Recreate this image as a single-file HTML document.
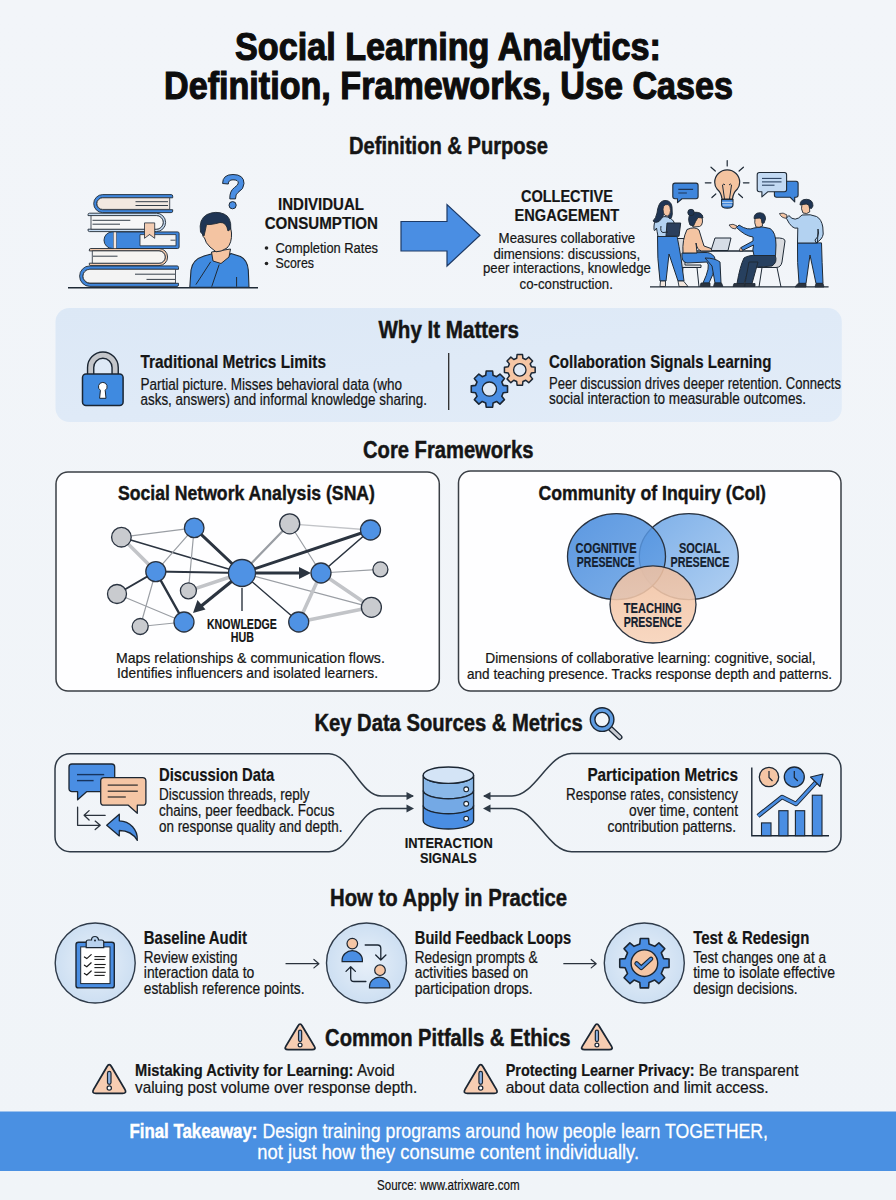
<!DOCTYPE html>
<html><head><meta charset="utf-8"><title>Social Learning Analytics</title>
<style>
html,body{margin:0;padding:0;background:#f1f4f8;width:896px;height:1200px;overflow:hidden;}
svg{display:block;font-family:"Liberation Sans",sans-serif;}
</style></head><body>
<svg width="896" height="1200" viewBox="0 0 896 1200">
<defs><linearGradient id="bg" x1="0" y1="0" x2="0" y2="1"><stop offset="0" stop-color="#f2f5f9"/><stop offset="1" stop-color="#f0f4f8"/></linearGradient>
<radialGradient id="circ" cx="0.5" cy="0.5" r="0.5"><stop offset="0" stop-color="#e8f0f9"/><stop offset="1" stop-color="#cddff2"/></radialGradient>
<linearGradient id="vcog" x1="0" y1="0" x2="1" y2="1"><stop offset="0" stop-color="#3f86dc"/><stop offset="1" stop-color="#6aa3e4"/></linearGradient>
<linearGradient id="vsoc" x1="0" y1="0" x2="1" y2="1"><stop offset="0" stop-color="#6ea6e6"/><stop offset="1" stop-color="#a9cbf0"/></linearGradient>
<linearGradient id="vtea" x1="0" y1="0" x2="0" y2="1"><stop offset="0" stop-color="#f0c0a0"/><stop offset="1" stop-color="#f7d2b8"/></linearGradient>
<linearGradient id="panel" x1="0" y1="0" x2="1" y2="1"><stop offset="0" stop-color="#dce8f6"/><stop offset="1" stop-color="#e2ecf8"/></linearGradient>
</defs>
<rect width="896" height="1200" fill="url(#bg)"/>
<text x="235.0" y="59.5" font-size="38.52" font-weight="700" fill="#0d0d0d" stroke="#0d0d0d" stroke-width="1.16" textLength="426.0" lengthAdjust="spacingAndGlyphs">Social Learning Analytics:</text>
<text x="164.0" y="98.7" font-size="38.52" font-weight="700" fill="#0d0d0d" stroke="#0d0d0d" stroke-width="1.16" textLength="569.0" lengthAdjust="spacingAndGlyphs">Definition, Frameworks, Use Cases</text>
<text x="349.0" y="153.9" font-size="23.54" font-weight="700" fill="#151515" stroke="#151515" stroke-width="0.47" textLength="199.0" lengthAdjust="spacingAndGlyphs">Definition &amp; Purpose</text>
<text x="278.0" y="210.0" font-size="16.59" font-weight="700" fill="#151515" stroke="#151515" stroke-width="0.20" textLength="86.0" lengthAdjust="spacingAndGlyphs">INDIVIDUAL</text>
<text x="264.7" y="229.0" font-size="16.59" font-weight="700" fill="#151515" stroke="#151515" stroke-width="0.20" textLength="113.3" lengthAdjust="spacingAndGlyphs">CONSUMPTION</text>
<circle cx="266.5" cy="248" r="1.8" fill="#222"/>
<circle cx="266.5" cy="263.5" r="1.8" fill="#222"/>
<text x="275.5" y="252.9" font-size="15.52" font-weight="400" fill="#151515" stroke="#151515" stroke-width="0.22" textLength="102.5" lengthAdjust="spacingAndGlyphs">Completion Rates</text>
<text x="275.5" y="268.4" font-size="15.52" font-weight="400" fill="#151515" stroke="#151515" stroke-width="0.22" textLength="38.5" lengthAdjust="spacingAndGlyphs">Scores</text>
<path d="M401,221.5 H447 V204.6 L480,235.3 L447,266 V251 H401 Z" fill="#4a8ee3" stroke="#1d3a66" stroke-width="1.2" stroke-linejoin="miter"/>
<text x="520.9" y="201.8" font-size="16.59" font-weight="700" fill="#151515" stroke="#151515" stroke-width="0.20" textLength="92.0" lengthAdjust="spacingAndGlyphs">COLLECTIVE</text>
<text x="514.6" y="220.8" font-size="16.59" font-weight="700" fill="#151515" stroke="#151515" stroke-width="0.20" textLength="104.5" lengthAdjust="spacingAndGlyphs">ENGAGEMENT</text>
<text x="498.6" y="243.1" font-size="15.52" font-weight="400" fill="#151515" stroke="#151515" stroke-width="0.22" textLength="136.6" lengthAdjust="spacingAndGlyphs">Measures collaborative</text>
<text x="493.4" y="258.7" font-size="15.52" font-weight="400" fill="#151515" stroke="#151515" stroke-width="0.22" textLength="146.7" lengthAdjust="spacingAndGlyphs">dimensions: discussions,</text>
<text x="483.0" y="273.2" font-size="15.52" font-weight="400" fill="#151515" stroke="#151515" stroke-width="0.22" textLength="167.8" lengthAdjust="spacingAndGlyphs">peer interactions, knowledge</text>
<text x="519.6" y="288.8" font-size="15.52" font-weight="400" fill="#151515" stroke="#151515" stroke-width="0.22" textLength="93.3" lengthAdjust="spacingAndGlyphs">co-construction.</text>
<rect x="55.5" y="308" width="786.3" height="114" rx="14" fill="url(#panel)"/>
<text x="378.4" y="338.1" font-size="23.01" font-weight="700" fill="#151515" stroke="#151515" stroke-width="0.46" textLength="140.6" lengthAdjust="spacingAndGlyphs">Why It Matters</text>
<text x="140.5" y="368.3" font-size="17.66" font-weight="700" fill="#151515" stroke="#151515" stroke-width="0.21" textLength="185.5" lengthAdjust="spacingAndGlyphs">Traditional Metrics Limits</text>
<text x="140.5" y="389.7" font-size="16.05" font-weight="400" fill="#151515" stroke="#151515" stroke-width="0.22" textLength="261.5" lengthAdjust="spacingAndGlyphs">Partial picture. Misses behavioral data (who</text>
<text x="140.5" y="405.3" font-size="16.05" font-weight="400" fill="#151515" stroke="#151515" stroke-width="0.22" textLength="286.5" lengthAdjust="spacingAndGlyphs">asks, answers) and informal knowledge sharing.</text>
<line x1="448.7" y1="353" x2="448.7" y2="410" stroke="#2a2a2a" stroke-width="1.3"/>
<text x="549.0" y="367.9" font-size="17.66" font-weight="700" fill="#151515" stroke="#151515" stroke-width="0.21" textLength="222.4" lengthAdjust="spacingAndGlyphs">Collaboration Signals Learning</text>
<text x="549.0" y="389.3" font-size="16.05" font-weight="400" fill="#151515" stroke="#151515" stroke-width="0.22" textLength="292.0" lengthAdjust="spacingAndGlyphs">Peer discussion drives deeper retention. Connects</text>
<text x="549.0" y="404.3" font-size="16.05" font-weight="400" fill="#151515" stroke="#151515" stroke-width="0.22" textLength="257.0" lengthAdjust="spacingAndGlyphs">social interaction to measurable outcomes.</text>
<text x="363.0" y="457.5" font-size="23.54" font-weight="700" fill="#151515" stroke="#151515" stroke-width="0.47" textLength="170.4" lengthAdjust="spacingAndGlyphs">Core Frameworks</text>
<rect x="56" y="472" width="383.3" height="219" rx="12" fill="#ffffff" fill-opacity="0.9" stroke="#3a3f45" stroke-width="1.5"/>
<rect x="458.5" y="471" width="382.5" height="220" rx="12" fill="#ffffff" fill-opacity="0.9" stroke="#3a3f45" stroke-width="1.5"/>
<text x="117.9" y="500.0" font-size="20.33" font-weight="700" fill="#151515" stroke="#151515" stroke-width="0.41" textLength="257.1" lengthAdjust="spacingAndGlyphs">Social Network Analysis (SNA)</text>
<text x="538.4" y="500.0" font-size="20.33" font-weight="700" fill="#151515" stroke="#151515" stroke-width="0.41" textLength="227.6" lengthAdjust="spacingAndGlyphs">Community of Inquiry (CoI)</text>
<text x="116.0" y="663.0" font-size="15.52" font-weight="400" fill="#151515" stroke="#151515" stroke-width="0.22" textLength="268.8" lengthAdjust="spacingAndGlyphs">Maps relationships &amp; communication flows.</text>
<text x="117.0" y="677.9" font-size="15.52" font-weight="400" fill="#151515" stroke="#151515" stroke-width="0.22" textLength="261.0" lengthAdjust="spacingAndGlyphs">Identifies influencers and isolated learners.</text>
<text x="207.0" y="628.7" font-size="14.45" font-weight="700" fill="#151515" stroke="#151515" stroke-width="0.17" textLength="69.8" lengthAdjust="spacingAndGlyphs">KNOWLEDGE</text>
<text x="230.8" y="641.7" font-size="14.45" font-weight="700" fill="#151515" stroke="#151515" stroke-width="0.17" textLength="23.2" lengthAdjust="spacingAndGlyphs">HUB</text>
<text x="485.3" y="663.0" font-size="15.52" font-weight="400" fill="#151515" stroke="#151515" stroke-width="0.22" textLength="330.3" lengthAdjust="spacingAndGlyphs">Dimensions of collaborative learning: cognitive, social,</text>
<text x="467.0" y="678.7" font-size="15.52" font-weight="400" fill="#151515" stroke="#151515" stroke-width="0.22" textLength="365.0" lengthAdjust="spacingAndGlyphs">and teaching presence. Tracks response depth and patterns.</text>
<text x="314.4" y="731.1" font-size="23.54" font-weight="700" fill="#151515" stroke="#151515" stroke-width="0.47" textLength="268.3" lengthAdjust="spacingAndGlyphs">Key Data Sources &amp; Metrics</text>
<text x="159.0" y="781.3" font-size="17.66" font-weight="700" fill="#151515" stroke="#151515" stroke-width="0.21" textLength="115.2" lengthAdjust="spacingAndGlyphs">Discussion Data</text>
<text x="159.0" y="800.4" font-size="16.05" font-weight="400" fill="#151515" stroke="#151515" stroke-width="0.22" textLength="150.5" lengthAdjust="spacingAndGlyphs">Discussion threads, reply</text>
<text x="159.0" y="816.0" font-size="16.05" font-weight="400" fill="#151515" stroke="#151515" stroke-width="0.22" textLength="175.4" lengthAdjust="spacingAndGlyphs">chains, peer feedback. Focus</text>
<text x="159.0" y="831.5" font-size="16.05" font-weight="400" fill="#151515" stroke="#151515" stroke-width="0.22" textLength="183.4" lengthAdjust="spacingAndGlyphs">on response quality and depth.</text>
<text x="404.7" y="848.0" font-size="14.98" font-weight="700" fill="#151515" stroke="#151515" stroke-width="0.18" textLength="88.0" lengthAdjust="spacingAndGlyphs">INTERACTION</text>
<text x="420.0" y="863.3" font-size="14.98" font-weight="700" fill="#151515" stroke="#151515" stroke-width="0.18" textLength="56.7" lengthAdjust="spacingAndGlyphs">SIGNALS</text>
<text x="587.4" y="781.3" font-size="17.66" font-weight="700" fill="#151515" stroke="#151515" stroke-width="0.21" textLength="150.6" lengthAdjust="spacingAndGlyphs">Participation Metrics</text>
<text x="566.0" y="800.4" font-size="16.05" font-weight="400" fill="#151515" stroke="#151515" stroke-width="0.22" textLength="172.0" lengthAdjust="spacingAndGlyphs">Response rates, consistency</text>
<text x="629.0" y="816.0" font-size="16.05" font-weight="400" fill="#151515" stroke="#151515" stroke-width="0.22" textLength="109.0" lengthAdjust="spacingAndGlyphs">over time, content</text>
<text x="607.5" y="831.5" font-size="16.05" font-weight="400" fill="#151515" stroke="#151515" stroke-width="0.22" textLength="128.5" lengthAdjust="spacingAndGlyphs">contribution patterns.</text>
<text x="330.0" y="905.8" font-size="23.54" font-weight="700" fill="#151515" stroke="#151515" stroke-width="0.47" textLength="237.1" lengthAdjust="spacingAndGlyphs">How to Apply in Practice</text>
<circle cx="95.2" cy="963" r="40" fill="url(#circ)" stroke="#2f3b4a" stroke-width="1.4"/>
<circle cx="366.5" cy="963" r="40" fill="url(#circ)" stroke="#2f3b4a" stroke-width="1.4"/>
<circle cx="644.3" cy="963" r="40" fill="url(#circ)" stroke="#2f3b4a" stroke-width="1.4"/>
<text x="143.8" y="943.6" font-size="17.66" font-weight="700" fill="#151515" stroke="#151515" stroke-width="0.21" textLength="103.2" lengthAdjust="spacingAndGlyphs">Baseline Audit</text>
<text x="143.8" y="962.7" font-size="16.05" font-weight="400" fill="#151515" stroke="#151515" stroke-width="0.22" textLength="93.7" lengthAdjust="spacingAndGlyphs">Review existing</text>
<text x="143.8" y="978.1" font-size="16.05" font-weight="400" fill="#151515" stroke="#151515" stroke-width="0.22" textLength="110.5" lengthAdjust="spacingAndGlyphs">interaction data to</text>
<text x="143.8" y="993.8" font-size="16.05" font-weight="400" fill="#151515" stroke="#151515" stroke-width="0.22" textLength="160.7" lengthAdjust="spacingAndGlyphs">establish reference points.</text>
<text x="414.8" y="943.6" font-size="17.66" font-weight="700" fill="#151515" stroke="#151515" stroke-width="0.21" textLength="156.3" lengthAdjust="spacingAndGlyphs">Build Feedback Loops</text>
<text x="414.8" y="962.7" font-size="16.05" font-weight="400" fill="#151515" stroke="#151515" stroke-width="0.22" textLength="122.8" lengthAdjust="spacingAndGlyphs">Redesign prompts &amp;</text>
<text x="414.8" y="978.1" font-size="16.05" font-weight="400" fill="#151515" stroke="#151515" stroke-width="0.22" textLength="113.5" lengthAdjust="spacingAndGlyphs">activities based on</text>
<text x="414.8" y="993.8" font-size="16.05" font-weight="400" fill="#151515" stroke="#151515" stroke-width="0.22" textLength="117.8" lengthAdjust="spacingAndGlyphs">participation drops.</text>
<text x="693.2" y="943.6" font-size="17.66" font-weight="700" fill="#151515" stroke="#151515" stroke-width="0.21" textLength="116.1" lengthAdjust="spacingAndGlyphs">Test &amp; Redesign</text>
<text x="693.2" y="962.7" font-size="16.05" font-weight="400" fill="#151515" stroke="#151515" stroke-width="0.22" textLength="132.8" lengthAdjust="spacingAndGlyphs">Test changes one at a</text>
<text x="693.2" y="978.1" font-size="16.05" font-weight="400" fill="#151515" stroke="#151515" stroke-width="0.22" textLength="141.9" lengthAdjust="spacingAndGlyphs">time to isolate effective</text>
<text x="693.2" y="993.8" font-size="16.05" font-weight="400" fill="#151515" stroke="#151515" stroke-width="0.22" textLength="104.4" lengthAdjust="spacingAndGlyphs">design decisions.</text>
<text x="325.1" y="1046.0" font-size="23.54" font-weight="700" fill="#151515" stroke="#151515" stroke-width="0.47" textLength="245.5" lengthAdjust="spacingAndGlyphs">Common Pitfalls &amp; Ethics</text>
<text x="135.1" y="1075.7" font-size="17.12" fill="#151515" stroke="#151515"><tspan x="135.1" font-weight="700" stroke-width="0.21" textLength="218.4" lengthAdjust="spacingAndGlyphs">Mistaking Activity for Learning:</tspan><tspan x="353.5" font-weight="400" stroke-width="0.24" textLength="41.2" lengthAdjust="spacingAndGlyphs"> Avoid</tspan></text>
<text x="135.1" y="1092.7" font-size="17.12" font-weight="400" fill="#151515" stroke="#151515" stroke-width="0.24" textLength="282.1" lengthAdjust="spacingAndGlyphs">valuing post volume over response depth.</text>
<text x="505.7" y="1075.7" font-size="17.12" fill="#151515" stroke="#151515"><tspan x="505.7" font-weight="700" stroke-width="0.21" textLength="188.8" lengthAdjust="spacingAndGlyphs">Protecting Learner Privacy:</tspan><tspan x="694.5" font-weight="400" stroke-width="0.24" textLength="103.9" lengthAdjust="spacingAndGlyphs"> Be transparent</tspan></text>
<text x="505.7" y="1092.7" font-size="17.12" font-weight="400" fill="#151515" stroke="#151515" stroke-width="0.24" textLength="263.0" lengthAdjust="spacingAndGlyphs">about data collection and limit access.</text>
<rect x="0" y="1111.5" width="896" height="59.5" fill="#4a90e2"/>
<text x="129.4" y="1137.5" font-size="20.87" fill="#ffffff" stroke="#ffffff"><tspan x="129.4" font-weight="700" stroke-width="0.42" textLength="128.1" lengthAdjust="spacingAndGlyphs">Final Takeaway:</tspan><tspan x="257.5" font-weight="400" stroke-width="0.29" textLength="510.5" lengthAdjust="spacingAndGlyphs"> Design training programs around how people learn TOGETHER,</tspan></text>
<text x="257.3" y="1158.6" font-size="20.87" font-weight="400" fill="#ffffff" stroke="#ffffff" stroke-width="0.29" textLength="381.7" lengthAdjust="spacingAndGlyphs">not just how they consume content individually.</text>
<text x="377.0" y="1190.4" font-size="13.91" font-weight="400" fill="#111" stroke="#111" stroke-width="0.19" textLength="142.5" lengthAdjust="spacingAndGlyphs">Source: www.atrixware.com</text>
<line x1="121.4" y1="537.2" x2="194.2" y2="527.9" stroke="#9a9ea4" stroke-width="1.2" stroke-linecap="round"/>
<line x1="121.4" y1="537.2" x2="242" y2="573" stroke="#2b3440" stroke-width="1.6" stroke-linecap="round"/>
<line x1="121.4" y1="537.2" x2="155.8" y2="571.6" stroke="#c2c4c8" stroke-width="3.5" stroke-linecap="round"/>
<line x1="194.2" y1="527.9" x2="155.8" y2="571.6" stroke="#9a9ea4" stroke-width="1.2" stroke-linecap="round"/>
<line x1="194.2" y1="527.9" x2="188.4" y2="590.8" stroke="#9a9ea4" stroke-width="1.2" stroke-linecap="round"/>
<line x1="289.7" y1="523.8" x2="242" y2="573" stroke="#9a9ea4" stroke-width="2.2" stroke-linecap="round"/>
<line x1="289.7" y1="523.8" x2="321" y2="573" stroke="#9a9ea4" stroke-width="1.2" stroke-linecap="round"/>
<line x1="289.7" y1="523.8" x2="370.5" y2="530" stroke="#c2c4c8" stroke-width="1.3" stroke-linecap="round"/>
<line x1="370.5" y1="530" x2="321" y2="573" stroke="#2b3440" stroke-width="1.6" stroke-linecap="round"/>
<line x1="155.8" y1="571.6" x2="242" y2="573" stroke="#2b3440" stroke-width="2" stroke-linecap="round"/>
<line x1="155.8" y1="571.6" x2="117" y2="594" stroke="#2b3440" stroke-width="1.8" stroke-linecap="round"/>
<line x1="155.8" y1="571.6" x2="184" y2="622" stroke="#2b3440" stroke-width="2.4" stroke-linecap="round"/>
<line x1="155.8" y1="571.6" x2="140.2" y2="626.5" stroke="#9a9ea4" stroke-width="1.2" stroke-linecap="round"/>
<line x1="242" y1="573" x2="188.4" y2="590.8" stroke="#c2c4c8" stroke-width="3.5" stroke-linecap="round"/>
<line x1="242" y1="573" x2="371.4" y2="607.3" stroke="#9a9ea4" stroke-width="1.2" stroke-linecap="round"/>
<line x1="242" y1="573" x2="298.7" y2="622" stroke="#2b3440" stroke-width="1.4" stroke-linecap="round"/>
<line x1="321" y1="573" x2="380.4" y2="569.4" stroke="#9a9ea4" stroke-width="1.2" stroke-linecap="round"/>
<line x1="321" y1="573" x2="298.7" y2="622" stroke="#c2c4c8" stroke-width="3.5" stroke-linecap="round"/>
<line x1="321" y1="573" x2="371.4" y2="607.3" stroke="#c2c4c8" stroke-width="3.5" stroke-linecap="round"/>
<line x1="298.7" y1="622" x2="371.4" y2="607.3" stroke="#c2c4c8" stroke-width="3.5" stroke-linecap="round"/>
<line x1="117" y1="594" x2="184" y2="622" stroke="#9a9ea4" stroke-width="1.2" stroke-linecap="round"/>
<line x1="140.2" y1="626.5" x2="184" y2="622" stroke="#9a9ea4" stroke-width="1.2" stroke-linecap="round"/>
<line x1="194.2" y1="527.9" x2="242" y2="573" stroke="#2b3440" stroke-width="3" stroke-linecap="round"/>
<line x1="370.5" y1="530" x2="242" y2="573" stroke="#2b3440" stroke-width="3" stroke-linecap="round"/>
<line x1="242" y1="573" x2="305" y2="573" stroke="#2b3440" stroke-width="3.2"/>
<path d="M311,573 L299,567 L299,579 Z" fill="#2b3440"/>
<line x1="242" y1="573" x2="200" y2="607" stroke="#2b3440" stroke-width="3.2"/>
<path d="M193,613 L197.5,600 L205.5,609.5 Z" fill="#2b3440"/>
<line x1="242" y1="588" x2="242" y2="611" stroke="#2b3440" stroke-width="1.4"/>
<circle cx="121.4" cy="537.2" r="9.8" fill="#c9cbcf" stroke="#2a3340" stroke-width="1.3"/>
<circle cx="194.2" cy="527.9" r="9.8" fill="#4f92e4" stroke="#2a3340" stroke-width="1.3"/>
<circle cx="289.7" cy="523.8" r="10" fill="#c9cbcf" stroke="#2a3340" stroke-width="1.3"/>
<circle cx="370.5" cy="530" r="10" fill="#4f92e4" stroke="#2a3340" stroke-width="1.3"/>
<circle cx="155.8" cy="571.6" r="10" fill="#4f92e4" stroke="#2a3340" stroke-width="1.3"/>
<circle cx="242" cy="573" r="13.5" fill="#4f92e4" stroke="#2a3340" stroke-width="1.3"/>
<circle cx="321" cy="573" r="10" fill="#4f92e4" stroke="#2a3340" stroke-width="1.3"/>
<circle cx="380.4" cy="569.4" r="7.5" fill="#c9cbcf" stroke="#2a3340" stroke-width="1.3"/>
<circle cx="117" cy="594" r="9.5" fill="#c9cbcf" stroke="#2a3340" stroke-width="1.3"/>
<circle cx="188.4" cy="590.8" r="8" fill="#c9cbcf" stroke="#2a3340" stroke-width="1.3"/>
<circle cx="371.4" cy="607.3" r="10" fill="#c9cbcf" stroke="#2a3340" stroke-width="1.3"/>
<circle cx="140.2" cy="626.5" r="8" fill="#c9cbcf" stroke="#2a3340" stroke-width="1.3"/>
<circle cx="184" cy="622" r="10" fill="#4f92e4" stroke="#2a3340" stroke-width="1.3"/>
<circle cx="298.7" cy="622" r="10" fill="#4f92e4" stroke="#2a3340" stroke-width="1.3"/>
<ellipse cx="688.8" cy="556.6" rx="49.5" ry="43" fill="url(#vsoc)" fill-opacity="0.9" stroke="#2a3340" stroke-width="1.3"/>
<ellipse cx="616.5" cy="556.6" rx="49" ry="43" fill="url(#vcog)" fill-opacity="0.85" stroke="#2a3340" stroke-width="1.3"/>
<ellipse cx="653" cy="604.4" rx="43" ry="38.6" fill="url(#vtea)" fill-opacity="0.88" stroke="#2a3340" stroke-width="1.3"/>
<text x="575.5" y="552.9" font-size="13.91" font-weight="700" fill="#14202e" stroke="#14202e" stroke-width="0.17" textLength="61.1" lengthAdjust="spacingAndGlyphs">COGNITIVE</text>
<text x="576.8" y="567.1" font-size="13.91" font-weight="700" fill="#14202e" stroke="#14202e" stroke-width="0.17" textLength="58.0" lengthAdjust="spacingAndGlyphs">PRESENCE</text>
<text x="679.0" y="552.9" font-size="13.91" font-weight="700" fill="#14202e" stroke="#14202e" stroke-width="0.17" textLength="41.5" lengthAdjust="spacingAndGlyphs">SOCIAL</text>
<text x="670.5" y="567.1" font-size="13.91" font-weight="700" fill="#14202e" stroke="#14202e" stroke-width="0.17" textLength="59.0" lengthAdjust="spacingAndGlyphs">PRESENCE</text>
<text x="623.7" y="613.0" font-size="13.91" font-weight="700" fill="#14202e" stroke="#14202e" stroke-width="0.17" textLength="58.0" lengthAdjust="spacingAndGlyphs">TEACHING</text>
<text x="623.7" y="627.4" font-size="13.91" font-weight="700" fill="#14202e" stroke="#14202e" stroke-width="0.17" textLength="58.0" lengthAdjust="spacingAndGlyphs">PRESENCE</text>
<path d="M90.65,374 V367.4 A12.25,12.25 0 0 1 115.15,367.4 V374" fill="none" stroke="#1b2633" stroke-width="7.6"/>
<path d="M90.65,374.5 V367.4 A12.25,12.25 0 0 1 115.15,367.4 V374.5" fill="none" stroke="#c4c6ca" stroke-width="4.8"/>
<rect x="82.5" y="374" width="40.6" height="31.6" rx="3.5" fill="#3f8ae0" stroke="#1b2633" stroke-width="1.5"/>
<path d="M102.8,382.4 a4.3,4.3 0 0 1 2.4,7.9 l0.8,8 h-6.4 l0.8,-8 a4.3,4.3 0 0 1 2.4,-7.9 z" fill="#ffffff" stroke="#1b2633" stroke-width="1"/>
<path d="M516.69,358.31 L517.09,354.54 L522.51,354.54 L522.91,358.31 L525.80,359.51 L528.75,357.12 L532.58,360.95 L530.19,363.90 L531.39,366.79 L535.16,367.19 L535.16,372.61 L531.39,373.01 L530.19,375.90 L532.58,378.85 L528.75,382.68 L525.80,380.29 L522.91,381.49 L522.51,385.26 L517.09,385.26 L516.69,381.49 L513.80,380.29 L510.85,382.68 L507.02,378.85 L509.41,375.90 L508.21,373.01 L504.44,372.61 L504.44,367.19 L508.21,366.79 L509.41,363.90 L507.02,360.95 L510.85,357.12 L513.80,359.51 Z" fill="#f5c6a5" stroke="#1b2633" stroke-width="1.5" stroke-linejoin="round"/>
<circle cx="519.8" cy="369.9" r="6.2" fill="#dfe9f5" stroke="#1b2633" stroke-width="1.3"/>
<path d="M485.70,375.29 L486.20,370.98 L492.60,370.98 L493.10,375.29 L496.55,376.72 L499.95,374.03 L504.47,378.55 L501.78,381.95 L503.21,385.40 L507.52,385.90 L507.52,392.30 L503.21,392.80 L501.78,396.25 L504.47,399.65 L499.95,404.17 L496.55,401.48 L493.10,402.91 L492.60,407.22 L486.20,407.22 L485.70,402.91 L482.25,401.48 L478.85,404.17 L474.33,399.65 L477.02,396.25 L475.59,392.80 L471.28,392.30 L471.28,385.90 L475.59,385.40 L477.02,381.95 L474.33,378.55 L478.85,374.03 L482.25,376.72 Z" fill="#4a8ee3" stroke="#1b2633" stroke-width="1.6" stroke-linejoin="round"/>
<circle cx="489.4" cy="389.1" r="7.1" fill="#dfe9f5" stroke="#1b2633" stroke-width="1.3"/>
<line x1="610.6" y1="728.6" x2="619.7" y2="737.2" stroke="#1b2633" stroke-width="5.6" stroke-linecap="round"/>
<line x1="610.6" y1="728.6" x2="619.7" y2="737.2" stroke="#c9ccd2" stroke-width="3" stroke-linecap="round"/>
<circle cx="602.1" cy="719.6" r="9.5" fill="none" stroke="#1b2633" stroke-width="6"/>
<circle cx="602.1" cy="719.6" r="9.5" fill="none" stroke="#5e9ce2" stroke-width="3.2"/>
<path d="M413,796 H381.3 C360,796 350,753.7 329,753.7 H70 A15,15 0 0 0 55,768.7 V836.7 A15,15 0 0 0 70,851.7 H329 C350,851.7 360,808.4 381.3,808.4 H410" fill="none" stroke="#2f3a46" stroke-width="1.5"/>
<path d="M414,796 L406.5,792 L406.5,800 Z" fill="#2f3a46"/><path d="M414,808.4 L406.5,804.4 L406.5,812.4 Z" fill="#2f3a46"/>
<path d="M484,796 H512 C535,796 548,753.4 571.6,753.4 H826 A15,15 0 0 1 841,768.4 V836.7 A15,15 0 0 1 826,851.7 H571.6 C548,851.7 535,808.4 512,808.4 H486" fill="none" stroke="#2f3a46" stroke-width="1.5"/>
<path d="M483,796 L490.5,792 L490.5,800 Z" fill="#2f3a46"/><path d="M483,808.4 L490.5,804.4 L490.5,812.4 Z" fill="#2f3a46"/>
<path d="M72,764 H111.7 A3,3 0 0 1 114.7,767 V788.7 A3,3 0 0 1 111.7,791.7 H86.6 L77.6,799.7 V791.7 H72 A3,3 0 0 1 69,788.7 V767 A3,3 0 0 1 72,764 Z" fill="#4a8ee3" stroke="#1b2633" stroke-width="1.3" stroke-linejoin="round"/>
<line x1="77" y1="774.6" x2="104.2" y2="774.6" stroke="#17345e" stroke-width="1.4"/><line x1="77" y1="780.6" x2="93.6" y2="780.6" stroke="#17345e" stroke-width="1.4"/>
<path d="M104,777.6 H142.6 A3.3,3.3 0 0 1 145.9,780.9 V801.9 A3.3,3.3 0 0 1 142.6,805.2 H137.3 V813.3 L128.3,805.2 H104 A3.3,3.3 0 0 1 100.7,801.9 V780.9 A3.3,3.3 0 0 1 104,777.6 Z" fill="#f5c6a5" stroke="#1b2633" stroke-width="1.3" stroke-linejoin="round"/>
<line x1="107.7" y1="785.1" x2="137.8" y2="785.1" stroke="#2a2a2a" stroke-width="1.2"/>
<line x1="107.7" y1="791.2" x2="137.8" y2="791.2" stroke="#2a2a2a" stroke-width="1.2"/>
<line x1="107.7" y1="797" x2="125.8" y2="797" stroke="#2a2a2a" stroke-width="1.2"/>
<path d="M77.6,807.2 V825.3 H100.2 M95.2,821.1 L100.2,825.3 L95.2,829.5 M105.2,815.3 H84.1 M89.1,810.6 L84.1,815.3 L89.1,820" fill="none" stroke="#2a323c" stroke-width="1.3" stroke-linecap="round" stroke-linejoin="round"/>
<path d="M106.7,825.3 L119.3,814.3 V820.8 C130,821 138,830 137.3,840.4 C133,833 126,830.5 119.3,830.5 V835.9 Z" fill="#4a8ee3" stroke="#1b2633" stroke-width="1.3" stroke-linejoin="round"/>
<path d="M423.2,775.2 V790.5 A25.2,8.2 0 0 0 473.59999999999997,790.5 V775.2 A25.2,8.2 0 0 1 423.2,775.2 Z" fill="#8ab8e8" stroke="#1b2633" stroke-width="1.4"/>
<path d="M423.2,790.5 V805.8 A25.2,8.2 0 0 0 473.59999999999997,805.8 V790.5 A25.2,8.2 0 0 1 423.2,790.5 Z" fill="#74a9e5" stroke="#1b2633" stroke-width="1.4"/>
<path d="M423.2,805.5 V820.8 A25.2,8.2 0 0 0 473.59999999999997,820.8 V805.5 A25.2,8.2 0 0 1 423.2,805.5 Z" fill="#4a8ee3" stroke="#1b2633" stroke-width="1.4"/>
<ellipse cx="448.4" cy="775.2" rx="25.2" ry="8.2" fill="#d4e4f6" stroke="#1b2633" stroke-width="1.4"/>
<circle cx="466.2" cy="789.3" r="2.4" fill="#fff" stroke="#1b2633" stroke-width="1.1"/>
<circle cx="466.2" cy="803.75" r="2.4" fill="#fff" stroke="#1b2633" stroke-width="1.1"/>
<circle cx="466.2" cy="818.6" r="2.4" fill="#fff" stroke="#1b2633" stroke-width="1.1"/>
<path d="M751.8,767.5 V835.7 H829" fill="none" stroke="#1b2633" stroke-width="1.4"/>
<rect x="761.5" y="822.9" width="9.5" height="12.800000000000068" fill="#4a8ee3" stroke="#1b2633" stroke-width="1.1"/>
<rect x="778.8" y="810.7" width="9.200000000000045" height="25.0" fill="#4a8ee3" stroke="#1b2633" stroke-width="1.1"/>
<rect x="795.4" y="810.7" width="9.300000000000068" height="25.0" fill="#4a8ee3" stroke="#1b2633" stroke-width="1.1"/>
<rect x="812.3" y="795.2" width="9.700000000000045" height="40.5" fill="#4a8ee3" stroke="#1b2633" stroke-width="1.1"/>
<path d="M758,816 L782,797 L796,804 L818,780" fill="none" stroke="#1b2633" stroke-width="4.6" stroke-linejoin="round"/>
<path d="M758,816 L782,797 L796,804 L818,780" fill="none" stroke="#4a8ee3" stroke-width="2.6" stroke-linejoin="round"/>
<path d="M823,774 L810.5,777 L820,786.5 Z" fill="#4a8ee3" stroke="#1b2633" stroke-width="1.1" stroke-linejoin="round"/>
<circle cx="769" cy="777" r="9.7" fill="#f5c6a5" stroke="#1b2633" stroke-width="1.3"/>
<path d="M769,771 V777.5 L772.5,781" fill="none" stroke="#1b2633" stroke-width="1.2"/>
<circle cx="794.3" cy="777" r="10" fill="#4a8ee3" stroke="#1b2633" stroke-width="1.3"/>
<path d="M794.3,771 V777.5 L797.8,781" fill="none" stroke="#1b2633" stroke-width="1.2"/>
<rect x="76" y="942.2" width="38.3" height="45.7" rx="2.5" fill="#4a8ee3" stroke="#1b2633" stroke-width="1.4"/>
<rect x="80.7" y="946.9" width="29.3" height="36.7" fill="#ffffff" stroke="#1b2633" stroke-width="1"/>
<path d="M86.2,947.7 V942 Q86.2,940 88.5,940 H91.5 A3.5,3.5 0 0 1 98.5,940 H101.5 Q103.75,940 103.75,942 V947.7 Z" fill="#b9d2ee" stroke="#1b2633" stroke-width="1.2"/>
<circle cx="95" cy="940.5" r="1" fill="#1b2633"/>
<path d="M84.4,957 L86.8,958.6 L91.2,954.6" fill="none" stroke="#1a1a1a" stroke-width="1.2" stroke-linecap="round"/>
<line x1="94.4" y1="956.6" x2="105.7" y2="956.6" stroke="#1a1a1a" stroke-width="1.1"/><line x1="94.4" y1="959.4" x2="104.7" y2="959.4" stroke="#1a1a1a" stroke-width="1.1"/>
<path d="M84.4,965.2 L86.8,966.8000000000001 L91.2,962.8000000000001" fill="none" stroke="#1a1a1a" stroke-width="1.2" stroke-linecap="round"/>
<line x1="94.4" y1="964.5" x2="105.7" y2="964.5" stroke="#1a1a1a" stroke-width="1.1"/><line x1="94.4" y1="967.6" x2="104.7" y2="967.6" stroke="#1a1a1a" stroke-width="1.1"/>
<path d="M84.4,973.4 L86.8,975.0 L91.2,971.0" fill="none" stroke="#1a1a1a" stroke-width="1.2" stroke-linecap="round"/>
<line x1="94.4" y1="972.3" x2="105.7" y2="972.3" stroke="#1a1a1a" stroke-width="1.1"/><line x1="94.4" y1="975.4" x2="104.7" y2="975.4" stroke="#1a1a1a" stroke-width="1.1"/>
<circle cx="352.3" cy="943.6" r="5.3" fill="#f5c6a5" stroke="#1b2633" stroke-width="1.2"/>
<path d="M342.1,961.6 V960 A10.15,9.3 0 0 1 362.4,960 V961.6 Z" fill="#4a8ee3" stroke="#1b2633" stroke-width="1.2"/>
<circle cx="380" cy="970.2" r="5.3" fill="#f5c6a5" stroke="#1b2633" stroke-width="1.2"/>
<path d="M369.5,987.8 V986.5 A10.15,9.3 0 0 1 389.8,986.5 V987.8 Z" fill="#4a8ee3" stroke="#1b2633" stroke-width="1.2"/>
<path d="M365.2,945 H377.5 Q380.8,945 380.8,948.3 V960 M375.7,955 L380.8,960 L385.9,955 M365.9,981.5 H354 Q350.7,981.5 350.7,978.2 V966.7 M346,971.4 L350.7,966.7 L355.4,971.4" fill="none" stroke="#1b2633" stroke-width="1.3" stroke-linecap="round" stroke-linejoin="round"/>
<path d="M639.78,943.95 L640.27,938.54 L648.53,938.54 L649.02,943.95 L654.75,946.32 L658.92,942.85 L664.75,948.68 L661.28,952.85 L663.65,958.58 L669.06,959.07 L669.06,967.33 L663.65,967.82 L661.28,973.55 L664.75,977.72 L658.92,983.55 L654.75,980.08 L649.02,982.45 L648.53,987.86 L640.27,987.86 L639.78,982.45 L634.05,980.08 L629.88,983.55 L624.05,977.72 L627.52,973.55 L625.15,967.82 L619.74,967.33 L619.74,959.07 L625.15,958.58 L627.52,952.85 L624.05,948.68 L629.88,942.85 L634.05,946.32 Z" fill="#4a8ee3" stroke="#1b2633" stroke-width="1.6" stroke-linejoin="round"/>
<circle cx="644.4" cy="963.2" r="13.3" fill="#f5c6a5" stroke="#1b2633" stroke-width="1.4"/>
<path d="M636.6,963.5 L641.25,967.8 L651,958.9" fill="none" stroke="#1b2633" stroke-width="4.6" stroke-linecap="round" stroke-linejoin="round"/>
<path d="M636.6,963.5 L641.25,967.8 L651,958.9" fill="none" stroke="#4a8ee3" stroke-width="2.4" stroke-linecap="round" stroke-linejoin="round"/>
<path d="M286,963.7 H318.9 M313.9,959.5 L318.9,963.7 L313.9,967.9" fill="none" stroke="#2a323c" stroke-width="1.2" stroke-linecap="round" stroke-linejoin="round"/>
<path d="M563.8,963.7 H596.2 M591.2,959.5 L596.2,963.7 L591.2,967.9" fill="none" stroke="#2a323c" stroke-width="1.2" stroke-linecap="round" stroke-linejoin="round"/>
<path d="M302.22,1025.95 L314.28,1046.15 Q316.40,1049.70 312.16,1049.70 L288.04,1049.70 Q283.80,1049.70 285.92,1046.15 L297.98,1025.95 Q300.10,1022.40 302.22,1025.95 Z" fill="#f7cdb2" stroke="#1b2633" stroke-width="1.8" stroke-linejoin="round"/>
<rect x="298.54" y="1030.22" width="3.12" height="11.46" rx="1.56" fill="#8fb4e3" stroke="#1b2633" stroke-width="1.2"/>
<circle cx="300.10" cy="1044.98" r="1.93" fill="#fff" stroke="#1b2633" stroke-width="1.2"/>
<path d="M599.07,1025.95 L611.43,1046.15 Q613.60,1049.70 609.26,1049.70 L584.54,1049.70 Q580.20,1049.70 582.37,1046.15 L594.73,1025.95 Q596.90,1022.40 599.07,1025.95 Z" fill="#f7cdb2" stroke="#1b2633" stroke-width="1.8" stroke-linejoin="round"/>
<rect x="595.34" y="1030.22" width="3.12" height="11.46" rx="1.56" fill="#8fb4e3" stroke="#1b2633" stroke-width="1.2"/>
<circle cx="596.90" cy="1044.98" r="1.93" fill="#fff" stroke="#1b2633" stroke-width="1.2"/>
<path d="M111.58,1066.69 L124.87,1089.41 Q127.20,1093.40 122.53,1093.40 L95.97,1093.40 Q91.30,1093.40 93.63,1089.41 L106.92,1066.69 Q109.25,1062.70 111.58,1066.69 Z" fill="#f7cdb2" stroke="#1b2633" stroke-width="1.8" stroke-linejoin="round"/>
<rect x="107.50" y="1071.45" width="3.50" height="12.87" rx="1.75" fill="#8fb4e3" stroke="#1b2633" stroke-width="1.2"/>
<circle cx="109.25" cy="1088.03" r="2.16" fill="#fff" stroke="#1b2633" stroke-width="1.2"/>
<path d="M483.04,1066.69 L496.36,1089.41 Q498.70,1093.40 494.02,1093.40 L467.38,1093.40 Q462.70,1093.40 465.04,1089.41 L478.36,1066.69 Q480.70,1062.70 483.04,1066.69 Z" fill="#f7cdb2" stroke="#1b2633" stroke-width="1.8" stroke-linejoin="round"/>
<rect x="478.95" y="1071.45" width="3.50" height="12.87" rx="1.75" fill="#8fb4e3" stroke="#1b2633" stroke-width="1.2"/>
<circle cx="480.70" cy="1088.03" r="2.16" fill="#fff" stroke="#1b2633" stroke-width="1.2"/>
<path d="M177.0,265.9 H89.85 A10.25,10.25 0 0 0 89.85,286.4 H177.0 Q178.5,286.4 178.5,284.9 V283.3 H89.85 A6.85,6.85 0 0 1 89.85,269.29999999999995 H178.5 V267.4 Q178.5,265.9 177.0,265.9 Z" fill="#3f86dc" stroke="#1f2a36" stroke-width="0.9"/>
<path d="M175.5,269.29999999999995 H89.85 A6.85,6.85 0 0 0 89.85,283.0 H175.5 Z" fill="#f3f3f3" stroke="#1f2a36" stroke-width="0.8"/>
<path d="M135,274.2 H175 M146.5,279.4 H175" stroke="#1f2a36" stroke-width="0.9"/>
<path d="M90.8,248.5 H159.04999999999998 A8.550000000000011,8.550000000000011 0 0 1 159.04999999999998,265.6 H90.8 Q89.3,265.6 89.3,264.1 V263.20000000000005 H159.04999999999998 A6.150000000000011,6.150000000000011 0 0 0 159.04999999999998,250.9 H89.3 V250.0 Q89.3,248.5 90.8,248.5 Z" fill="#f2c9ab" stroke="#1f2a36" stroke-width="0.9"/>
<path d="M92.3,250.9 H159.04999999999998 A6.150000000000011,6.150000000000011 0 0 1 159.04999999999998,263.20000000000005 H92.3 Z" fill="#f6f4f1" stroke="#1f2a36" stroke-width="0.8"/>
<path d="M93,256.2 H117.5" stroke="#1f2a36" stroke-width="0.9"/>
<path d="M112.3,231.9 H177.6 Q179.1,231.9 179.1,233.4 V247 Q179.1,248.5 177.6,248.5 H112.3 A8.3,8.3 0 0 1 112.3,231.9 Z" fill="#3f86dc" stroke="#1f2a36" stroke-width="0.9"/>
<path d="M140,234.6 H176 V245.8 H140 Z" fill="#f3f3f3" stroke="#1f2a36" stroke-width="0.8"/>
<path d="M113.6,232.2 V248.2 M116.2,232.2 V248.2" stroke="#1f2a36" stroke-width="0.8"/><rect x="113.6" y="232.2" width="2.6" height="16" fill="#f4e4da"/>
<path d="M170.5,240.2 H175.5" stroke="#1f2a36" stroke-width="0.8"/>
<path d="M89.5,213.2 H156.39999999999998 A9.200000000000003,9.200000000000003 0 0 1 156.39999999999998,231.6 H89.5 Q88,231.6 88,230.1 V229.2 H156.39999999999998 A6.8000000000000025,6.8000000000000025 0 0 0 156.39999999999998,215.6 H88 V214.7 Q88,213.2 89.5,213.2 Z" fill="#c5dbf2" stroke="#1f2a36" stroke-width="0.9"/>
<path d="M91,215.6 H156.39999999999998 A6.8000000000000025,6.8000000000000025 0 0 1 156.39999999999998,229.2 H91 Z" fill="#f7f7f7" stroke="#1f2a36" stroke-width="0.8"/>
<path d="M92.5,220.3 H130.3 M92.5,224.2 H120" stroke="#1f2a36" stroke-width="0.9"/>
<path d="M144.5,222.9 H154.7 V238.3 L149.6,234.5 L144.5,238.3 Z" fill="#f3cdb3" stroke="#1f2a36" stroke-width="0.8" stroke-linejoin="round"/>
<path d="M171.2,194.6 H102.7 A9.0,9.0 0 0 0 102.7,212.6 H171.2 Q172.7,212.6 172.7,211.1 V209.70000000000002 H102.7 A5.8,5.8 0 0 1 102.7,197.79999999999998 H172.7 V196.1 Q172.7,194.6 171.2,194.6 Z" fill="#3f86dc" stroke="#1f2a36" stroke-width="0.9"/>
<path d="M169.7,197.79999999999998 H102.7 A5.8,5.8 0 0 0 102.7,209.4 H169.7 Z" fill="#f2e8e0" stroke="#1f2a36" stroke-width="0.8"/>
<path d="M135.5,201.7 H168 M135.5,205.5 H168" stroke="#1f2a36" stroke-width="0.9"/>
<line x1="68" y1="287.8" x2="258" y2="287.8" stroke="#1f2a36" stroke-width="1.4"/>
<path d="M189.8,287.2 L191,270 Q192.5,259.5 204,256 L213,253.5 L221,262 L231,253.5 L240.5,256.5 Q247.5,260 248.3,270 L249,287.2 Z" fill="#3f8ae0" stroke="#1f2a36" stroke-width="1.1" stroke-linejoin="round"/>
<path d="M211.5,252 L213,261 L221,263.5 L229,257 L230.5,249 Z" fill="#f4c4a2" stroke="#1f2a36" stroke-width="1"/>
<path d="M195.9,284.6 L210.7,261.8 M211.7,286.7 L219.2,264.5 M236.6,277 V286.7" fill="none" stroke="#1f2a36" stroke-width="1"/>
<path d="M203,230 Q202,224 207,222 L226,222 Q231,226 231.5,233 Q232,243 227,248 Q221,252 216,251.8 L210,247 Q205.5,243 204.5,238 Q201.5,236 203,230 Z" fill="#f4c4a2" stroke="#1f2a36" stroke-width="1"/>
<path d="M200.5,232 Q198.5,219 207,214.5 Q216,210.5 224,214 Q231.5,217 230.8,229 L228,231 Q226.5,222 220,222.5 Q211,225 206.5,224.5 Q205.5,230 204,236 Z" fill="#1f3554" stroke="#1f2a36" stroke-width="0.9"/>
<path d="M222.6,183.5 Q222.6,174.5 233,174.5 Q244,174.5 244,183.5 Q244,189 238,192.5 Q235.5,194 235.5,198.9 H229.8 Q229.5,191 234.5,187.5 Q238.3,185 238.3,183 Q238.3,179.8 233,179.8 Q228.3,179.8 228.3,184 Z" fill="#4a8ee3" stroke="#1f2a36" stroke-width="1"/>
<circle cx="232.6" cy="205.2" r="3.6" fill="#4a8ee3" stroke="#1f2a36" stroke-width="1"/>
<line x1="650" y1="286.8" x2="828.6" y2="286.8" stroke="#1f2a36" stroke-width="1.3"/>
<path d="M727.2,160.5 V166 M711,167.2 L715.3,171 M743.4,167.2 L739.1,171 M705.3,182.8 H711 M743.4,182.8 H749 M711.9,197.5 L715.8,194 M742.5,197.5 L738.6,194" stroke="#1f2a36" stroke-width="1.2" stroke-linecap="round"/>
<path d="M722,199 Q721.5,193 717,189 Q714.7,186 714.7,182.3 A12.5,12.5 0 0 1 739.7,182.3 Q739.7,186 737.4,189 Q733,193 732.5,199 Z" fill="#f4c4a0" stroke="#1f2a36" stroke-width="1.2"/>
<path d="M722.5,185 L724.5,199 M731.5,185 L729.5,199 M722.5,185 Q724,183 725,185 M729,185 Q730.5,183 731.5,185" fill="none" stroke="#1f2a36" stroke-width="1"/>
<path d="M721.6,199.5 H733 V205 Q733,208.1 727.3,208.1 Q721.6,208.1 721.6,205 Z" fill="#3f86dc" stroke="#1f2a36" stroke-width="1.1"/>
<path d="M722,202.3 H732.6 M722.5,205 H732" stroke="#dfeaf6" stroke-width="0.9"/>
<path d="M675,183.1 H696 Q698.1,183.1 698.1,185.2 V196.6 Q698.1,198.75 696,198.75 H682 L677.5,202.7 V198.75 H675 Q672.8,198.75 672.8,196.6 V185.2 Q672.8,183.1 675,183.1 Z" fill="#3f86dc" stroke="#1f2a36" stroke-width="1.1" stroke-linejoin="round"/>
<path d="M678.3,189.4 H693.1 M678.3,193 H686.9" stroke="#1f3554" stroke-width="1.1"/>
<path d="M776.5,181.25 H796 Q798.1,181.25 798.1,183.3 V195.1 Q798.1,197.2 796,197.2 H794.7 V201.9 L790,197.2 H776.5 Q774.4,197.2 774.4,195.1 V183.3 Q774.4,181.25 776.5,181.25 Z" fill="#3f86dc" stroke="#1f2a36" stroke-width="1.1" stroke-linejoin="round"/>
<path d="M759.4,172.5 H784.4 Q786.6,172.5 786.6,174.7 V189.5 Q786.6,191.7 784.4,191.7 H768 L761.9,196.9 V191.7 H759.4 Q757.2,191.7 757.2,189.5 V174.7 Q757.2,172.5 759.4,172.5 Z" fill="#c3daf3" stroke="#1f2a36" stroke-width="1.1" stroke-linejoin="round"/>
<path d="M762,178.4 H781.5 M762,181.9 H781.5 M762,185.2 H774.5" stroke="#1f3554" stroke-width="1"/>
<path d="M674,238.5 H685 V265 H701 V267.5 H680 Q675.5,267.5 675,262 Z" fill="#d9dbdf" stroke="#1f2a36" stroke-width="1"/>
<path d="M683,267.5 L681,287 M697,267.5 L699,287" stroke="#1f2a36" stroke-width="1"/>
<path d="M775,238 Q785,237.5 785,241 L782,262 Q781,267.5 776,267.5 H758 V264 H774 Z" fill="#d9dbdf" stroke="#1f2a36" stroke-width="1"/>
<path d="M762,267.5 L759,287 M777,267.5 L781,287" stroke="#1f2a36" stroke-width="1"/>
<line x1="697" y1="251" x2="758" y2="251" stroke="#1f2a36" stroke-width="1.3"/>
<path d="M715,238 H731 L728,250.5 H711 Z" fill="#d6dde6" stroke="#1f2a36" stroke-width="1"/>
<path d="M657.5,236 H677 Q679,246 681,258 L684,281 H678 L669,254 L666,281 H660 Q657,258 657.5,236 Z" fill="#3f86dc" stroke="#1f2a36" stroke-width="1" stroke-linejoin="round"/>
<path d="M660.5,281 H665.5 L665.5,286.5 H660 Z M678,281 H683.5 L688,286.5 H679 Z" fill="#f2e6dd" stroke="#1f2a36" stroke-width="0.9"/>
<path d="M656,219.5 Q659,216.6 665,216.6 Q671,217 674,222 L675.5,236.5 H658 Q657,231 656.5,228 Q653.5,234 654,226 Q654,222 656,219.5 Z" fill="#b3d2f1" stroke="#1f2a36" stroke-width="1" stroke-linejoin="round"/>
<path d="M659,205 Q661,200 666.5,200.5 Q671.5,201.5 672,207 L672.3,214 Q672,218.5 670,219 L668,216 L664,214 Q662,219 659,221.5 Q655,223.5 653,221 Q656,218 657,213 Q657.5,208 659,205 Z" fill="#1f3554" stroke="#1f2a36" stroke-width="0.9" stroke-linejoin="round"/>
<path d="M663.5,206.5 Q665,204 668,204.5 Q670.5,206 670.5,210.5 Q670.5,215 667.5,216 Q664.5,216.5 663.5,213 Q662.5,209 663.5,206.5 Z" fill="#f4c4a2" stroke="#1f2a36" stroke-width="0.8"/>
<path d="M667,223 L680.7,223 L679,236.2 H666 Z" fill="#2b3f5c" stroke="#1f2a36" stroke-width="1" stroke-linejoin="round"/>
<path d="M661,226 Q660,232 663,232.5 L668,232" fill="none" stroke="#1f2a36" stroke-width="1"/>
<path d="M682,253 Q681,262 687,263 L707,262 Q711,266 703,283 H709 Q718,265 714.5,257 Q711,252 705,252.5 Z" fill="#3f86dc" stroke="#1f2a36" stroke-width="1" stroke-linejoin="round"/>
<path d="M705,258 Q715,258 720,262 L721,283 H715 L712,266 Z" fill="#3f86dc" stroke="#1f2a36" stroke-width="1" stroke-linejoin="round"/>
<path d="M701,283 H710 V286.5 H700 Z M714.5,283 H721.5 L723,286.5 H713.5 Z" fill="#2b3440" stroke="#1f2a36" stroke-width="0.8"/>
<path d="M687,229.5 Q695,226 699,230 Q702,240 704,246 L711,248.5 L712,251 L701.5,251 Q697,250 696,243 L697,253 H683 Q682,240 687,229.5 Z" fill="#f4c4a2" stroke="#1f2a36" stroke-width="1" stroke-linejoin="round"/>
<path d="M690,215 Q692,212 697,213 Q703,215.5 702.5,222 Q702,226 699.5,226.5 L693,227 Q689.5,222 690,215 Z" fill="#f4c4a2" stroke="#1f2a36" stroke-width="0.9"/>
<path d="M690,225 Q687,218 690.5,214 Q694,211 700,213 Q703,214.5 703,218 L698,217.5 Q695.5,221 693.5,226 Z" fill="#1f3554" stroke="#1f2a36" stroke-width="0.9"/>
<circle cx="691" cy="212.5" r="3.2" fill="#1f3554" stroke="#1f2a36" stroke-width="0.9"/>
<path d="M775,255 Q778,262 772,266 L749,268 L744,283.5 H737 Q740,266 744,258 Q748,255 760,255 Z" fill="#27405f" stroke="#1f2a36" stroke-width="1" stroke-linejoin="round"/>
<path d="M758,262 L752,283.5 H745 L749,262 Z" fill="#27405f" stroke="#1f2a36" stroke-width="1"/>
<path d="M734,283.5 H745 V286.5 H733 Z M745,283.5 H755 V286.5 H744 Z" fill="#2b3440" stroke="#1f2a36" stroke-width="0.8"/>
<path d="M754,228 Q762,225.5 770,228.5 Q776,232 776,245 L775.5,255.5 H754 Q752,250 753.5,245 L742.5,250.5 L741,247.5 L753,241 L753,237 Q745,236 736.5,227.5 L739,225 Q748,231 754,228 Z" fill="#3f86dc" stroke="#1f2a36" stroke-width="1" stroke-linejoin="round"/>
<path d="M729,225 Q733,223 737,226 L735.5,229 Q731,229 729,225 Z M741,247.5 Q739,249 739.5,251 H743 Z" fill="#f4c4a2" stroke="#1f2a36" stroke-width="0.8"/>
<path d="M755,218 Q760,216 762,219 L762.5,226 Q759,228 756,227 Q754,223 755,218 Z" fill="#f4c4a2" stroke="#1f2a36" stroke-width="0.9"/>
<path d="M754,218.5 Q754,212.8 760,212.8 Q765.5,213 765.5,219 L764,223.2 L762,223 Q762,219 760,218 Z" fill="#1f3554" stroke="#1f2a36" stroke-width="0.9"/>
<path d="M797.5,242.9 H821.5 Q822,262 823,283.4 H816 L810,255 L806,283.4 H799 Q797,262 797.5,242.9 Z" fill="#3f86dc" stroke="#1f2a36" stroke-width="1" stroke-linejoin="round"/>
<path d="M798,283.4 H806 V287 H795 Z M816,283.4 H823 L824,287 H815 Z" fill="#2b3440" stroke="#1f2a36" stroke-width="0.8"/>
<path d="M802,215 Q811,213.8 816.5,216.5 Q821.5,219 822.8,227 L823.2,234 Q822.5,239.5 816,242.8 L815,240 Q818.5,237 818.5,233 L818,229 L817.5,243 H797.5 L797.8,228 Q792,230 786.4,218.3 L788.8,215.5 Q795,223 802,215 Z" fill="#b3d2f1" stroke="#1f2a36" stroke-width="1" stroke-linejoin="round"/>
<path d="M779.5,213.5 Q783,212 787,215 L786.4,218.3 Q781,218 779.5,213.5 Z" fill="#f4c4a2" stroke="#1f2a36" stroke-width="0.8"/>
<path d="M802,204 Q806,202.5 809.5,205 L809.7,212 Q807,214.5 803,213 Q800.5,209 802,204 Z" fill="#f4c4a2" stroke="#1f2a36" stroke-width="0.9"/>
<path d="M800,205 Q800,199.3 806.5,199.3 Q813,199.5 813,206 L811.5,208.5 L809.5,208 Q809.5,204 806.5,204 L802,204.5 Z" fill="#1f3554" stroke="#1f2a36" stroke-width="0.9"/>
</svg>
</body></html>
